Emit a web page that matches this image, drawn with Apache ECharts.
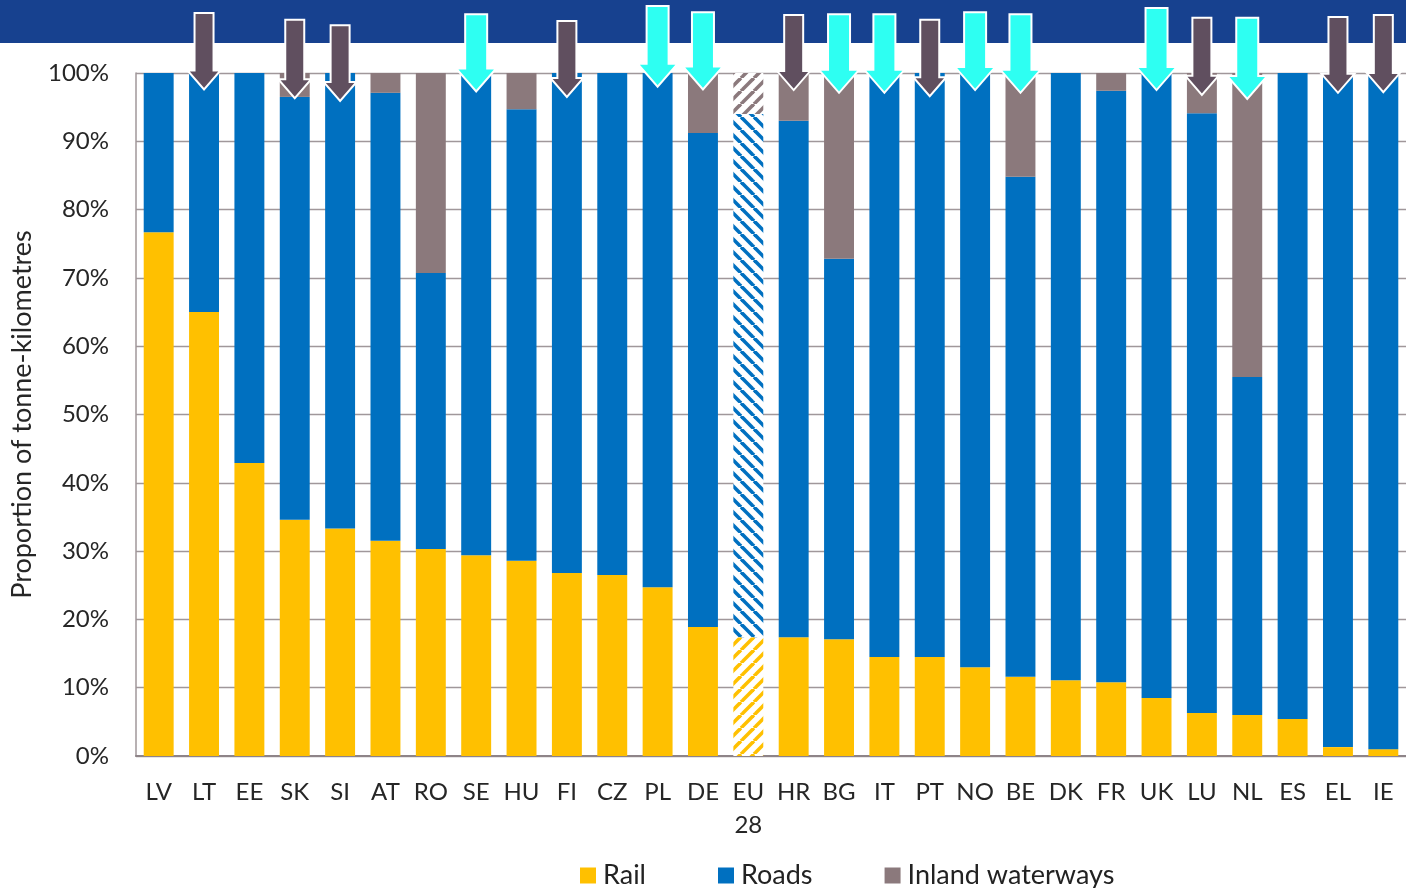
<!DOCTYPE html>
<html><head><meta charset="utf-8">
<script src="https://cdn.jsdelivr.net/npm/echarts@6/dist/echarts.min.js"></script>
<style>html,body{margin:0;padding:0;background:#fff}#c{width:1406px;height:888px}</style>
</head><body><div id="c"></div>
<script>
const categories = ['LV','LT','EE','SK','SI','AT','RO','SE','HU','FI','CZ','PL','DE','EU\n28','HR','BG','IT','PT','NO','BE','DK','FR','UK','LU','NL','ES','EL','IE'];
const rail  = [76.7,65.0,42.9,34.6,33.3,31.5,30.3,29.4,28.6,26.8,26.5,24.7,18.9,17.4,17.4,17.1,14.5,14.5,13.0,11.6,11.1,10.8,8.5,6.3,6.0,5.4,1.3,1.0];
const roads = [23.3,35.0,57.1,61.9,66.7,65.6,40.4,70.6,66.1,73.2,73.5,75.3,72.3,76.6,75.6,55.7,85.5,85.5,87.0,73.2,88.9,86.6,91.5,87.8,49.5,94.6,98.7,99.0];
const inland = [0,0,0,3.5,0,2.9,29.3,0,5.3,0,0,0,8.8,6.0,7.0,27.2,0,0,0,15.2,0,2.6,0,5.9,44.5,0,0,0];
const yTicks = ['0%','10%','20%','30%','40%','50%','60%','70%','80%','90%','100%'];
// arrow annotations (category, kind, top value, tip value)
const arrowCats = ['LT','SK','SI','SE','FI','PL','DE','HR','BG','IT','PT','NO','BE','UK','LU','NL','EL','IE'];
const arrowKind = ['dark','dark','dark','cyan','dark','cyan','cyan','dark','cyan','cyan','dark','cyan','cyan','cyan','dark','cyan','dark','dark'];
const arrowTop  = [108.8,107.8,107.0,108.6,107.6,109.8,108.9,108.5,108.6,108.6,107.8,108.9,108.6,109.5,108.1,108.1,108.2,108.5];
const arrowTip  = [97.6,96.3,95.9,97.3,96.5,98.0,97.6,97.5,97.1,97.1,96.6,97.5,97.1,97.5,96.8,96.2,97.1,97.2];

const C_RAIL = '#FFC000', C_ROAD = '#0070C0', C_IW = '#8B797C';
function hatch(color, dir) {
  const s = 13, c = document.createElement('canvas');
  c.width = s; c.height = s;
  const g = c.getContext('2d');
  g.fillStyle = '#fff'; g.fillRect(0,0,s,s);
  g.strokeStyle = color; g.lineWidth = 3.6;
  for (const o of [-s, 0, s]) {
    g.beginPath();
    if (dir === '/') { g.moveTo(o, s); g.lineTo(o + s, 0); }
    else { g.moveTo(o, 0); g.lineTo(o + s, s); }
    g.stroke();
  }
  return {image: c, repeat: 'repeat'};
}
const euIdx = categories.indexOf('EU\n28');
function withEU(arr, pattern) {
  return arr.map((v, i) => i === euIdx ? {value: v, itemStyle: {color: pattern}} : v);
}
const arrowData = arrowCats.map((c, i) => [categories.indexOf(c), arrowTop[i], arrowTip[i], arrowKind[i] === 'cyan' ? 1 : 0]);

const chart = echarts.init(document.getElementById('c'));
const font = 'Lato, "Open Sans", sans-serif';
chart.setOption({
  animation: false,
  textStyle: {fontFamily: font},
  graphic: [{type: 'rect', left: 0, top: 0, z: -10, shape: {width: 1406, height: 43}, style: {fill: '#17418F'}}],
  grid: {left: 136, right: -4, top: 73, bottom: 132},
  legend: {
    left: 575, top: 857, itemWidth: 16, itemHeight: 16, itemGap: 72, icon: 'rect',
    textStyle: {fontSize: 27, color: '#222', fontFamily: font, padding: [0,0,0,2]},
    data: ['Rail','Roads','Inland waterways']
  },
  xAxis: {
    type: 'category', data: categories,
    axisLine: {lineStyle: {color: '#8E8488', width: 2}},
    axisTick: {show: false},
    axisLabel: {fontSize: 24, color: '#262626', margin: 20, lineHeight: 33, interval: 0}
  },
  yAxis: {
    type: 'value', min: 0, max: 100, interval: 10,
    name: 'Proportion of tonne-kilometres', nameLocation: 'middle', nameGap: 100,
    nameTextStyle: {fontSize: 27, color: '#262626'},
    axisLine: {show: true, lineStyle: {color: '#A0979A', width: 1.5}},
    axisTick: {show: false},
    splitLine: {lineStyle: {color: '#A0979A', width: 1.3}},
    axisLabel: {fontSize: 24, color: '#262626', margin: 27, formatter: (v) => yTicks[Math.round(v / 10)]}
  },
  series: [
    {name: 'Rail', type: 'bar', stack: 't', barWidth: '66%', itemStyle: {color: C_RAIL}, data: withEU(rail, hatch(C_RAIL, '/'))},
    {name: 'Roads', type: 'bar', stack: 't', barWidth: '66%', itemStyle: {color: C_ROAD}, data: withEU(roads, hatch(C_ROAD, '\\'))},
    {name: 'Inland waterways', type: 'bar', stack: 't', barWidth: '66%', itemStyle: {color: C_IW}, data: withEU(inland, hatch(C_IW, '/'))},
    {
      type: 'custom', clip: false, z: 20, silent: true,
      encode: {x: 0, y: [1, 2]},
      data: arrowData,
      renderItem: function (params, api) {
        const top = api.coord([api.value(0), api.value(1)]);
        const tip = api.coord([api.value(0), api.value(2)]);
        const x = tip[0], yt = top[1], yp = tip[1];
        const cyan = api.value(3) === 1;
        const sw = cyan ? 11 : 9.5, hw = cyan ? 20 : 16.5, hh = cyan ? 23 : 19;
        return {
          type: 'polygon',
          shape: {points: [[x - sw, yt], [x + sw, yt], [x + sw, yp - hh], [x + hw, yp - hh], [x, yp], [x - hw, yp - hh], [x - sw, yp - hh]]},
          style: {fill: cyan ? '#2EFFF2' : '#604F5F', stroke: '#fff', lineWidth: 2}
        };
      }
    }
  ]
});
</script></body></html>
